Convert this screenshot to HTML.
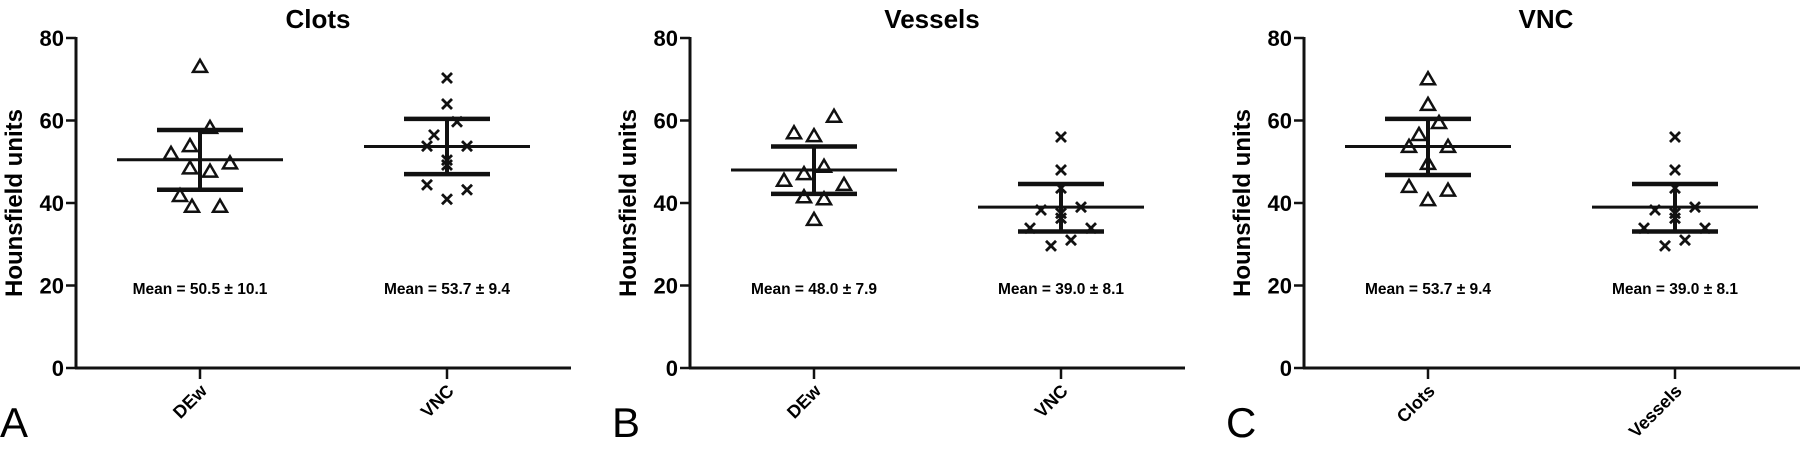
<!DOCTYPE html>
<html><head><meta charset="utf-8"><style>
html,body{margin:0;padding:0;background:#fff;}
svg{display:block;font-family:"Liberation Sans",Arial,sans-serif;}
</style></head><body>
<svg id="fig" width="1800" height="469" viewBox="0 0 1800 469" xmlns="http://www.w3.org/2000/svg"></svg>
<script>
// Panel A: Clots
const aCats = ["DEw","VNC"];
const aDEw = [73,58.2,53.8,51.9,49.6,48.4,47.6,41.7,39.1,39.1];
const aDEwOff = [0,10,-10,-29,30,-10,10,-20,-8,20];
const aVNC = [70.3,64,59.7,56.5,53.8,53.8,50.4,49.2,44.4,43.2,40.9];
const aVNCOff = [0,0,10,-13,-20,20,0,0,-20,20,0];
const aMeans = [50.5,53.7];
const aLow = [43.2,47];
const aHigh = [57.7,60.4];
const aLabels = ["Mean = 50.5 \u00b1 10.1","Mean = 53.7 \u00b1 9.4"];
// Panel B: Vessels
const bCats = ["DEw","VNC"];
const bDEw = [60.9,56.9,56.2,48.8,47,45.4,44.4,41.4,40.9,35.9];
const bDEwOff = [20,-20,0,10,-10,-30,30,-10,10,0];
const bVNC = [56,48,43.6,38.3,39,37.5,36.3,33.9,33.9,29.6,31];
const bVNCOff = [0,0,0,-20,20,0,0,-31,30,-10,10];
const bMeans = [48.0,39.0];
const bLow = [42.2,33.1];
const bHigh = [53.7,44.6];
const bLabels = ["Mean = 48.0 \u00b1 7.9","Mean = 39.0 \u00b1 8.1"];
// Panel C: VNC
const cCats = ["Clots","Vessels"];
const cClots = [70,63.8,59.4,56.5,53.6,53.6,49.5,43.9,43,40.7];
const cClotsOff = [0,0,11,-9,-19,20,0,-19,20,0];
const cVes = [56,48,43.6,38.3,39,37.5,36.3,33.9,33.9,29.6,31];
const cVesOff = [0,0,0,-20,20,0,0,-31,30,-10,10];
const cMeans = [53.7,39.0];
const cLow = [46.8,33.1];
const cHigh = [60.4,44.6];
const cLabels = ["Mean = 53.7 \u00b1 9.4","Mean = 39.0 \u00b1 8.1"];
const yTicks = [0,20,40,60,80];

const NS="http://www.w3.org/2000/svg";
const svg=document.getElementById('fig');
function mk(tag,attrs,parent){const e=document.createElementNS(NS,tag);for(const k in attrs)e.setAttribute(k,attrs[k]);(parent||svg).appendChild(e);return e;}

function panel(ax,xEnd,title,letter,letterX,cats,series,offs,shapes,means,lows,highs,labels,key){
  const g=mk('g',{});
  
  
  const y=v=>368-v*4.125;
  const x=i=>ax+124+i*247;
  const t=mk('text',{x:ax+242,y:28,'text-anchor':'middle','font-size':26,'font-weight':'bold'},g);t.textContent=title;
  
  
  const L=mk('text',{x:letterX,y:437,'font-size':42},g);L.textContent=letter;
  
  
  const yl=mk('text',{x:0,y:0,'text-anchor':'middle','font-size':24,'font-weight':'bold',transform:`translate(${ax-54},203) rotate(-90)`},g);yl.textContent='Hounsfield units';
  
  
  const yax=mk('line',{x1:ax,y1:y(80)-1,x2:ax,y2:369,stroke:'#111','stroke-width':3},g);
  
  
  const xax=mk('line',{x1:ax-1,y1:368,x2:xEnd,y2:368,stroke:'#111','stroke-width':3},g);
  
  
  yTicks.forEach(v=>{
    mk('line',{x1:ax-10,y1:y(v),x2:ax,y2:y(v),stroke:'#111','stroke-width':2.5},g);
    const tt=mk('text',{x:ax-12,y:y(v)+8,'text-anchor':'end','font-size':22,'font-weight':'bold'},g);tt.textContent=v;
    
    
  });
  cats.forEach((c,i)=>{
    mk('line',{x1:x(i),y1:368,x2:x(i),y2:379,stroke:'#111','stroke-width':2.5},g);
    const ct=mk('text',{x:0,y:0,'text-anchor':'end','font-size':18,'font-weight':'bold',transform:`translate(${x(i)+8},392) rotate(-45)`},g);ct.textContent=c;
    
    
    const ml=mk('text',{x:x(i),y:294,'text-anchor':'middle','font-size':15.5,'font-weight':'bold'},g);ml.textContent=labels[i];
    
    
    // points
    series[i].forEach((v,j)=>{
      const px=x(i)+offs[i][j],py=y(v);
      let m;
      if(shapes[i]==='tri'){
        m=mk('polygon',{points:`${px},${py-7} ${px-7},${py+5} ${px+7},${py+5}`,fill:'none',stroke:'#111','stroke-width':2.5},g);
      } else {
        m=mk('path',{d:`M${px-5},${py-5}L${px+5},${py+5}M${px+5},${py-5}L${px-5},${py+5}`,stroke:'#111','stroke-width':2.8,fill:'none'},g);
      }
      
      
    });
    const mn=mk('line',{x1:x(i)-83,y1:y(means[i]),x2:x(i)+83,y2:y(means[i]),stroke:'#111','stroke-width':3},g);
    
    
    const ev=mk('line',{x1:x(i),y1:y(highs[i]),x2:x(i),y2:y(lows[i]),stroke:'#111','stroke-width':4},g);
    
    
    [highs[i],lows[i]].forEach(v=>{
      const cp=mk('line',{x1:x(i)-43,y1:y(v),x2:x(i)+43,y2:y(v),stroke:'#111','stroke-width':4.5},g);
      
      
    });
  });
}
panel(76,571,'Clots','A',0,aCats,[aDEw,aVNC],[aDEwOff,aVNCOff],['tri','x'],aMeans,aLow,aHigh,aLabels,'a-clots');
panel(690,1185,'Vessels','B',612,bCats,[bDEw,bVNC],[bDEwOff,bVNCOff],['tri','x'],bMeans,bLow,bHigh,bLabels,'b-vessels');
panel(1304,1800,'VNC','C',1226,cCats,[cClots,cVes],[cClotsOff,cVesOff],['tri','x'],cMeans,cLow,cHigh,cLabels,'c-vnc');
</script>
</body></html>
